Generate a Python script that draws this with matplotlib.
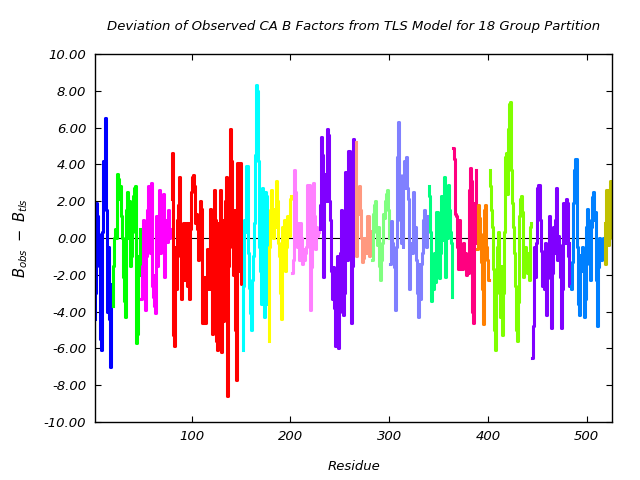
import matplotlib
matplotlib.use('Agg')
import numpy as np
import matplotlib.pyplot as plt
from matplotlib.ticker import FormatStrFormatter

plt.rcParams['font.family'] = 'DejaVu Sans'
plt.rcParams['font.style'] = 'italic'
plt.rcParams['mathtext.fontset'] = 'dejavusans'

first_residue = 2

# one array of deviations per TLS group, in chain order
group_colors = ['#0000ff', '#00ff00', '#ff00ff', '#ff0000', '#00ffff', '#ffff00',
                '#ff80ff', '#8000ff', '#ff9980', '#80ff80', '#8080ff', '#00ff80',
                '#ff0080', '#ff8000', '#80ff00', '#8000ff', '#0080ff', '#c0c000']

blue = [-4.4, -3.0, 1.9, 1.2, 0.2, -1.5, -5.5, -6.1, 0.3, 4.2, 3.6, 6.5, 1.5, -4.0,
        -0.5, -4.4, -7.0, -2.5]
green = [-3.7, -1.5, 0.0, 0.5, 0.0, 3.5, 3.2, 2.1, 2.8, 1.2, 0.0, -2.1, -3.4, -4.3,
         1.5, 2.5, 0.0, 2.0, -1.5, -1.0, 0.3, 2.3, 2.7, 2.8, -5.7, -5.2, -1.0, -2.0, 0.5]
magenta = [-3.3, -1.5, 1.0, 0.5, -3.9, -1.0, 1.5, 2.8, 1.2, -0.8, 3.0, -2.6, -3.2, -2.0,
           -3.7, -4.1, 1.2, -1.5, 0.8, 2.6, -0.8, 1.8, -0.5, 2.4, -2.1, 0.3, 1.0, -0.2,
           1.5, 0.0, 0.5]
red = [2.1, 4.6, -5.3, -5.9, -0.5, -2.8, 1.0, 1.8, 3.3, -1.0, -3.3, -0.5, 0.8, -2.3,
       -0.5, 0.8, -2.6, 0.8, -3.3, 0.5, 2.5, 3.3, 3.4, 2.8, 0.8, 1.3, 0.5, -1.2, 0.3,
       2.0, 1.6, -4.6, -4.6, -2.1, -4.6, -2.8, -0.6, -1.2, -2.8, 1.6, 1.4, -5.2, -3.8,
       2.6, 1.0, -5.6, -6.1, 0.8, -1.5, 2.6, -6.2, 1.0, -4.5, 1.0, 2.0, 3.3, -8.6, -1.5,
       -0.5, 5.9, 4.2, 0.8, -2.0, 1.5, -5.0, -7.7, 4.1, 4.1, 4.1, -1.8, 4.1, -2.5]
cyan = [-6.1, -2.6, 1.0, 0.3, 3.9, 3.9, -0.8, -2.7, -4.1, -5.0, -2.3, -1.0, 0.8, 4.5,
        8.3, 8.0, 4.2, -0.5, -1.8, -3.6, 2.7, -2.6, -4.3, 2.5, 2.3, -3.6]
yellow = [-5.6, -0.5, 1.5, 2.6, 1.2, 0.0, 1.6, 0.6, 3.1, 2.0, -0.3, -1.0, -3.0, -4.4,
          0.6, -1.4, 1.0, -1.8, -0.5, 1.2, 1.0, 0.1, 2.1, 2.3]
pink = [-1.9, -1.2, 3.7, 2.5, 0.6, -0.5, 0.8, -1.2, 0.8, 0.0, -1.4, -0.6, -1.2, -0.8,
        -0.5, 2.9, 1.8, 2.9, -3.9, -1.6, 2.1, 3.0, 1.2, -0.6, 0.6, 0.1, 0.4, 0.3]
purple_a = [0.5, 1.8, 5.5, 4.5, -2.1, 3.5, 3.2, 2.0, 5.9, 5.6, 2.0, 1.0, -1.8, -3.3,
            -1.6, -3.8, -5.9, -5.2, -1.0, -6.0, -4.0, -0.8, 1.5, 0.8, -4.2, -3.0, 3.6,
            3.0, -1.2, 4.7, 4.7, 2.8, -4.6, -1.5, 5.4, 4.0]
salmon = [5.2, -1.0, 2.0, 1.3, 2.8, 1.5, 0.0, -1.3, -1.1, 0.0, -0.2, -0.8, 1.2, 1.2,
          -1.0, 0.1, 0.4]
light_green = [-1.2, 1.3, 1.8, 2.0, 0.3, -0.4, 0.6, -1.5, -2.3, -1.2, -0.3, 1.3, 1.1,
               2.0, 2.4, 2.6, 1.5, 0.0]
lavender = [-1.4, 0.9, -0.3, -1.2, -1.6, -3.9, -0.5, 4.4, 6.3, 3.4, 1.0, -0.3, 2.5,
            -0.5, 3.4, 4.2, 2.7, 4.4, 2.7, 2.1, -2.8, -0.6, -0.3, -0.8, 2.5, -0.5, 0.6,
            -1.2, -3.0, -4.3, -1.4, -3.3, -1.4, -0.8, 1.0, 1.5, 1.2, -0.5, 1.2]
spring = [2.8, 2.3, 0.3, -3.4, -1.0, -2.8, -0.8, -2.4, 1.4, 1.4, -0.5, -2.2, -0.8, 2.3,
          0.6, -0.1, 3.3, -2.1, 0.2, 0.0, 2.9, 1.5, 0.3, -0.3, -3.2]
deep_pink = [4.9, 4.3, 1.3, 1.2, -0.5, -1.7, 1.0, -1.7, -1.0, -1.7, -0.3, -1.5, -0.8,
             -2.0, -1.0, -1.9, 2.6, 3.8, 3.1, -4.0, -4.6, 1.9, -0.3, 3.7]
orange = [-0.6, 1.8, 1.1, 0.2, -1.3, -2.8, -4.7, 1.5, 1.8, 0.3, -0.5, -1.2, -2.3]
chartreuse = [3.7, 2.8, 1.5, 0.6, -1.7, -5.0, -6.1, -3.0, -0.5, 0.3, -2.1, -4.3, -1.5,
              -5.3, -3.0, 0.3, 4.4, 4.6, 2.4, 5.9, 7.3, 7.4, 3.7, 1.9, 0.6, -0.8, -2.6,
              -5.0, -5.6, -3.5, 1.2, 2.1, 2.3, 1.4, -2.1, -1.0, -0.5, -1.2, -1.9, -0.8,
              -2.3, 0.6, 0.8]
purple_b = [-6.5, -4.8, -0.5, -2.1, -0.3, 2.7, 2.9, 2.9, 1.0, -0.7, -2.6, -1.3, -2.8,
            -0.3, -4.2, -2.2, -0.4, 1.2, -1.3, -4.9, -1.9, 0.6, -0.8, 1.0, 2.7, -1.2,
            0.1, -0.4, -2.1, -4.9, -2.8, 1.9, 1.1, -0.3, 2.1, 1.9, -1.0, -0.3, -2.6]
azure = [-2.6, -2.8, -1.3, 1.9, 3.7, 4.3, 4.3, -0.5, -3.6, -4.2, -0.9, -1.8, -0.5, -1.8,
         -4.3, -3.3, 0.6, 1.6, 1.0, -1.4, -2.3, 0.6, 2.2, 2.5, 1.0, 1.4, -2.3, -4.8,
         -1.6, 0.0, -0.5, -1.2, -0.3, 0.0]
olive = [0.8, -1.4, 2.6, 2.6, -0.4, 0.0, 3.1, 2.9, 1.3]

groups = [blue, green, magenta, red, cyan, yellow, pink, purple_a, salmon, light_green,
          lavender, spring, deep_pink, orange, chartreuse, purple_b, azure, olive]

fig = plt.figure(figsize=(6.4, 4.8), dpi=100)
ax = fig.add_axes([0.148, 0.121, 0.809, 0.7665])

ax.axhline(0, color='black', lw=0.8, zorder=1)

start = first_residue
for vals, col in zip(groups, group_colors):
    res = np.arange(start, start + len(vals))
    ax.plot(res, vals, color=col, lw=2.2, drawstyle='steps-mid', zorder=2)
    start += len(vals)

ax.set_xlim(2, 526)
ax.set_ylim(-10, 10)
ax.set_xticks([100, 200, 300, 400, 500])
ax.set_yticks(np.arange(-10, 10.1, 2))
ax.yaxis.set_major_formatter(FormatStrFormatter('%.2f'))
ax.tick_params(direction='in', length=4, width=0.8, top=True, right=True,
               labelsize=9.5, pad=6, colors='black')
for s in ax.spines.values():
    s.set_linewidth(1.0)

ax.set_title('Deviation of Observed CA B Factors from TLS Model for 18 Group Partition',
             fontsize=9.5, pad=17)
ax.set_xlabel('Residue', fontsize=9.5, labelpad=12)
ax.set_ylabel(r'$B_{obs}\ -\ B_{tls}$', fontsize=10.5, labelpad=10)

fig.savefig('out.png', dpi=100)
